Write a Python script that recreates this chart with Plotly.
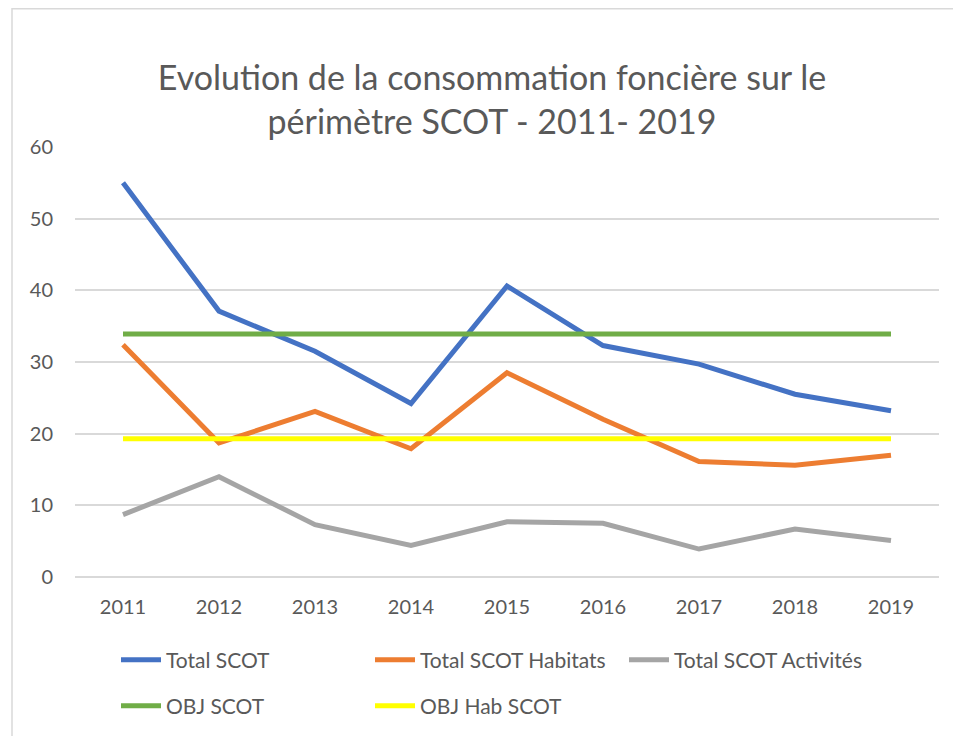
import plotly.graph_objects as go

years = ["2011", "2012", "2013", "2014", "2015", "2016", "2017", "2018", "2019"]
total_scot = [55.0, 37.1, 31.5, 24.2, 40.6, 32.3, 29.7, 25.5, 23.2]
total_habitats = [32.4, 18.7, 23.1, 17.9, 28.5, 22.0, 16.1, 15.6, 17.0]
total_activites = [8.7, 14.0, 7.3, 4.4, 7.7, 7.5, 3.9, 6.7, 5.1]
obj_scot = [33.9] * 9
obj_hab_scot = [19.3] * 9

series = [
    ("Total SCOT", total_scot, "#4472C4", "legend"),
    ("Total SCOT Habitats", total_habitats, "#ED7D31", "legend"),
    ("Total SCOT Activités", total_activites, "#A5A5A5", "legend"),
    ("OBJ SCOT", obj_scot, "#70AD47", "legend2"),
    ("OBJ Hab SCOT", obj_hab_scot, "#FFFF00", "legend2"),
]

# the page body adds an 8px offset; coordinates below are page (screen) pixels
OFF = 8
W, H = 961, 736
L, R, T, B = 75 - OFF, 30, 147 - OFF, 167
pw, ph = W - L - R, H - T - B

def px(x):
    return (x - OFF - L) / pw

def py(y):
    return (H - B - (y - OFF)) / ph

fig = go.Figure()
for name, vals, col, lg in series:
    fig.add_trace(go.Scatter(x=years, y=vals, name=name, mode="lines",
                             line=dict(color=col, width=5), legend=lg))

font = "Lato, Carlito, 'Open Sans', sans-serif"
legend_common = dict(orientation="h", xanchor="left", yanchor="middle",
                     entrywidth=199, entrywidthmode="pixels", itemwidth=40,
                     font=dict(size=21, color="#595959", family=font),
                     bgcolor="rgba(0,0,0,0)")
fig.update_layout(
    width=W, height=H,
    margin=dict(l=L, r=R, t=T, b=B),
    paper_bgcolor="white", plot_bgcolor="white",
    font=dict(family=font, color="#595959", size=20),
    title=dict(text="Evolution de la consommation foncière sur le<br>périmètre SCOT - 2011- 2019",
               x=px(492), xref="paper", xanchor="center",
               y=1 - 81.5 / H, yref="container", yanchor="middle",
               font=dict(size=34, color="#595959", family=font)),
    xaxis=dict(type="category", range=[-0.5, 8.5], showgrid=False, showline=False,
               ticks="", tickfont=dict(size=20, color="#595959"), ticklabelstandoff=16),
    yaxis=dict(range=[0, 60], dtick=10, showgrid=True, gridcolor="#D9D9D9", gridwidth=1.5,
               zeroline=True, zerolinecolor="#D9D9D9", zerolinewidth=1.5,
               showline=False, ticks="", tickfont=dict(size=20, color="#595959"),
               ticklabelstandoff=21),
    legend=dict(x=px(116), y=py(660), **legend_common),
    legend2=dict(x=px(116), y=py(706), **legend_common),
    shapes=[dict(type="rect", xref="paper", yref="paper",
                 x0=px(12), x1=px(980), y0=py(760), y1=(H - B - 0.75) / ph,
                 line=dict(color="#D9D9D9", width=1.5), fillcolor="rgba(0,0,0,0)",
                 layer="below")],
)

fig.write_html("out.html")
